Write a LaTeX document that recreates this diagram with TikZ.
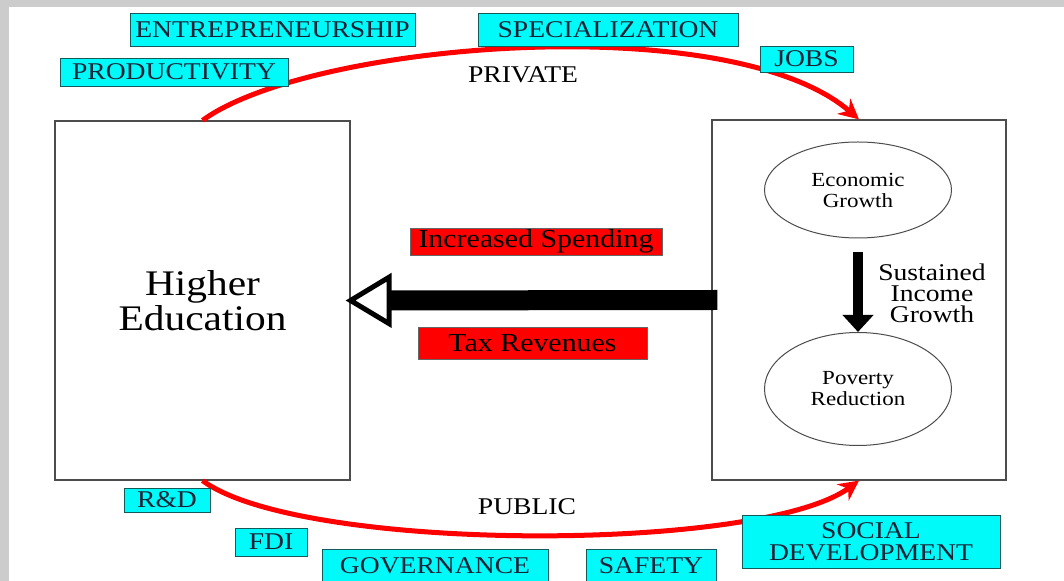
\documentclass[tikz,border=0pt]{standalone}
\usepackage{fontspec}
\setmainfont{Liberation Serif}[FakeStretch=1.15]
\usetikzlibrary{arrows.meta,shapes.geometric}

\definecolor{tagfill}{RGB}{0,250,250}
\definecolor{tagline}{RGB}{20,90,90}
\definecolor{tagtext}{RGB}{25,35,55}

\tikzset{
  tag/.style={draw=tagline, fill=tagfill, text=tagtext, inner sep=0pt, align=center, font=\fontsize{12}{11}\selectfont},
  flow/.style={draw=black!60, fill=red, inner sep=0pt, font=\fontsize{13}{13}\selectfont},
  panel/.style={draw=black!70, line width=0.6pt, inner sep=0pt},
  bubble/.style={ellipse, draw=black!70, line width=0.5pt, inner sep=0pt, align=center, font=\fontsize{10}{10.5}\selectfont},
  channel/.style={red, line width=2.5pt, -{Stealth[length=10pt,width=10pt]}},
}

\begin{document}
\begin{tikzpicture}[x=0.5pt,y=-0.5pt]
  \useasboundingbox (0,0) rectangle (1064,581);
  % frame
  \fill[gray!40] (0,0) rectangle (1064,581);
  \fill[white] (9,7) rectangle (1064,581);

  % the two sides
  \node[panel, minimum width=147.5pt, minimum height=179.5pt, align=center, font=\fontsize{18}{15.5}\selectfont] (hedu) at (202.5,300.5) {Higher\\Education};
  \node[panel, minimum width=147pt, minimum height=180pt] (rbox) at (859,300) {};
  \node[bubble, minimum width=93.5pt, minimum height=48pt] (growth) at (858,190) {Economic\\Growth};
  \node[bubble, minimum width=93.5pt, minimum height=56.5pt] (poverty) at (858,389) {Poverty\\Reduction};
  \node[align=center, font=\fontsize{12}{10.5}\selectfont] (income) at (932,293) {Sustained\\Income\\Growth};

  \draw[line width=5pt, -{Triangle[length=8.5pt,width=15pt]}, shorten <=7pt] (growth) -- (poverty);

  % money flows
  \node[flow, minimum width=126pt, minimum height=13.5pt] (spend) at (536,241.5) {Increased Spending};
  \node[flow, minimum width=114.5pt, minimum height=16pt] (tax) at (532.5,343) {Tax Revenues};
  \draw[line width=10pt, -{Triangle[fill=white, length=23pt, width=27pt, line width=2.5pt]}] ([xshift=3pt]rbox.west) -- ([xshift=-2.5pt]hedu.east);

  % private and public returns
  \draw[channel] (hedu.north) .. controls (310,42) and (730,8) .. (rbox.north);
  \draw[channel] (hedu.south) .. controls (300,553) and (760,553) .. (rbox.south);
  \node[font=\fontsize{12}{12}\selectfont] (private) at (523,75) {PRIVATE};
  \node[font=\fontsize{12}{12}\selectfont] (public) at (527,507) {PUBLIC};

  \node[tag, minimum width=142.5pt, minimum height=16.5pt] (entre) at (272.5,29.5) {ENTREPRENEURSHIP};
  \node[tag, minimum width=130pt, minimum height=16.5pt] (spec) at (608,29.5) {SPECIALIZATION};
  \node[tag, minimum width=114pt, minimum height=14pt] (prod) at (174,72) {PRODUCTIVITY};
  \node[tag, minimum width=46.5pt, minimum height=13pt] (jobs) at (806.5,59) {JOBS};
  \node[tag, minimum width=43pt, minimum height=12pt] (rnd) at (167,500) {R\&D};
  \node[tag, minimum width=36pt, minimum height=14pt] (fdi) at (271,542) {FDI};
  \node[tag, minimum width=113pt, minimum height=17pt] (gov) at (435,566) {GOVERNANCE};
  \node[tag, minimum width=65pt, minimum height=17pt] (safety) at (651,566) {SAFETY};
  \node[tag, minimum width=129pt, minimum height=26.5pt] (social) at (871,541.5) {SOCIAL\\DEVELOPMENT};
\end{tikzpicture}
\end{document}
